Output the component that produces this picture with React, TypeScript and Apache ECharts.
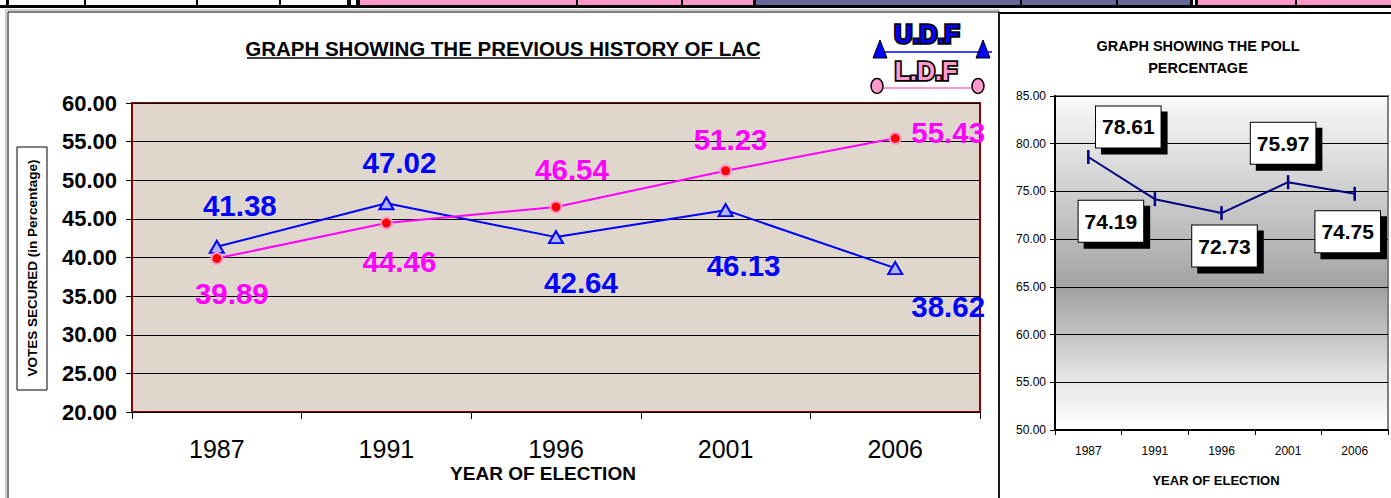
import React, { useEffect, useRef } from 'react';
import * as echarts from 'echarts';

const years = ['1987', '1991', '1996', '2001', '2006'];
const udfVotes = [41.38, 47.02, 42.64, 46.13, 38.62];
const ldfVotes = [39.89, 44.46, 46.54, 51.23, 55.43];
const pollPct = [78.61, 74.19, 72.73, 75.97, 74.75];

const FONT = '"Liberation Sans", Arial, sans-serif';

// label placement (layout only)
const udfLabelOffsets = [[23, -41], [13, -41], [25, 45], [18, 55], [53, 38]];
const ldfLabelOffsets = [[15, 35], [13, 38], [16, -37], [5, -31], [53, -6]];
const pollLabelOffsets = [[40, -30], [-44, 22], [3, 33], [-5, -39], [-7, 38]];

// top strip cells: [x0, x1, color]
const stripCells: [number, number, string][] = [
  [0, 6, '#ffffff'], [9, 84, '#ffffff'], [86, 196, '#ffffff'], [198, 279, '#ffffff'], [281, 347, '#ffffff'],
  [351, 356, '#ffffff'],
  [360, 576, '#ff99cc'], [578, 681, '#ff99cc'], [683, 753, '#ff99cc'],
  [756, 1020, '#666699'], [1022, 1116, '#666699'], [1118, 1190, '#666699'],
  [1193, 1195, '#ffffff'],
  [1198, 1295, '#ff99cc'], [1297, 1391, '#ff99cc'],
];

function txt(x: number, y: number, text: string, size: number, extra: any = {}) {
  return {
    type: 'text', x, y, silent: true,
    style: {
      text, fill: '#000', fontSize: size, fontWeight: 'bold', fontFamily: FONT,
      textAlign: 'center', textVerticalAlign: 'middle', align: 'center', verticalAlign: 'middle',
      ...extra,
    },
  };
}

export default function App() {
  const ref = useRef<HTMLDivElement>(null);
  useEffect(() => {
    if (!ref.current) return;
    const chart = echarts.init(ref.current, null, { renderer: 'svg' });

    const graphics: any[] = [];
    graphics.push({ type: 'rect', shape: { x: 0, y: 0, width: 1391, height: 8 }, style: { fill: '#000' }, silent: true });
    stripCells.forEach(([a, b, c]) => {
      graphics.push({ type: 'rect', shape: { x: a, y: 0, width: b - a, height: 5 }, style: { fill: c }, silent: true });
    });
    // boxes
    graphics.push({ type: 'rect', shape: { x: 6, y: 10, width: 993, height: 500 }, style: { fill: 'none', stroke: '#999', lineWidth: 1 }, silent: true });
    graphics.push({ type: 'rect', shape: { x: 8, y: 12, width: 991, height: 500 }, style: { fill: 'none', stroke: '#000', lineWidth: 1 }, silent: true });
    graphics.push({ type: 'line', shape: { x1: 999, y1: 13, x2: 1391, y2: 13 }, style: { stroke: '#000', lineWidth: 2 }, silent: true });
    graphics.push({ type: 'line', shape: { x1: 999, y1: 12, x2: 999, y2: 498 }, style: { stroke: '#000', lineWidth: 1.5 }, silent: true });

    // left title
    graphics.push(txt(503, 48, 'GRAPH SHOWING THE PREVIOUS HISTORY OF LAC', 20.5));
    graphics.push({ type: 'line', shape: { x1: 247, y1: 58, x2: 760, y2: 58 }, style: { stroke: '#000', lineWidth: 1.5 }, silent: true });
    // y name box
    graphics.push({ type: 'rect', shape: { x: 17, y: 147, width: 30, height: 243 }, style: { fill: '#fff', stroke: '#000', lineWidth: 1 }, silent: true });
    graphics.push({ ...txt(32, 268, 'VOTES SECURED (in Percentage)', 13.5), rotation: Math.PI / 2 });
    graphics.push(txt(543, 473, 'YEAR OF ELECTION', 19));

    // legend logo
    graphics.push({ type: 'line', shape: { x1: 880, y1: 52, x2: 992, y2: 52 }, style: { stroke: '#0000ff', lineWidth: 1.5 }, silent: true });
    graphics.push({ type: 'polygon', shape: { points: [[880, 40], [873, 58], [887, 58]] }, style: { fill: '#0000ff', stroke: '#000', lineWidth: 1 }, silent: true });
    graphics.push({ type: 'polygon', shape: { points: [[983, 40], [976, 58], [990, 58]] }, style: { fill: '#0000ff', stroke: '#000', lineWidth: 1 }, silent: true });
    graphics.push(txt(927, 34, 'U.D.F', 25, { fill: '#0000ff', stroke: '#000', lineWidth: 3.5 }));
    graphics.push({ type: 'line', shape: { x1: 877, y1: 88, x2: 978, y2: 88 }, style: { stroke: '#ff99cc', lineWidth: 2 }, silent: true });
    graphics.push({ type: 'ellipse', shape: { cx: 877, cy: 86, rx: 6, ry: 7.5 }, style: { fill: '#ff99cc', stroke: '#000', lineWidth: 1.5 }, silent: true });
    graphics.push({ type: 'ellipse', shape: { cx: 978, cy: 86, rx: 6, ry: 7.5 }, style: { fill: '#ff99cc', stroke: '#000', lineWidth: 1.5 }, silent: true });
    graphics.push(txt(926, 71, 'L.D.F', 25, { fill: '#ff99cc', stroke: '#000', lineWidth: 3.5 }));

    // right titles
    graphics.push(txt(1198, 46, 'GRAPH SHOWING THE POLL', 14.5));
    graphics.push(txt(1198, 68, 'PERCENTAGE', 14.5));
    graphics.push(txt(1216, 480, 'YEAR OF ELECTION', 13));

    const fmt = (p: any) => Number(p.value).toFixed(2);

    chart.setOption({
      animation: false,
      backgroundColor: '#fff',
      grid: [
        { left: 132, top: 103, width: 848, height: 309, show: true, backgroundColor: '#dfd7cb', borderColor: '#8b0000', borderWidth: 2, z: 0 },
        {
          left: 1055, top: 96, width: 333, height: 334, show: true, borderColor: '#808080', borderWidth: 2,
          backgroundColor: new echarts.graphic.LinearGradient(0, 0, 0, 1, [
            { offset: 0, color: '#fafafa' },
            { offset: 0.58, color: '#a2a2a2' },
            { offset: 0.86, color: '#e8e8e8' },
            { offset: 1, color: '#ffffff' },
          ]),
        },
      ],
      xAxis: [
        {
          type: 'category', gridIndex: 0, data: years, boundaryGap: true,
          axisLine: { show: true, lineStyle: { color: '#000', width: 1 } },
          axisTick: { show: true, length: 7, lineStyle: { color: '#000' } },
          axisLabel: { fontSize: 25, color: '#000', margin: 24, fontFamily: FONT },
        },
        {
          type: 'category', gridIndex: 1, data: years, boundaryGap: true,
          axisLine: { show: true, lineStyle: { color: '#000', width: 2 } },
          axisTick: { show: true, length: 5, lineStyle: { color: '#000' } },
          axisLabel: { fontSize: 12, color: '#000', margin: 15, fontFamily: FONT },
        },
      ],
      yAxis: [
        {
          type: 'value', gridIndex: 0, min: 20, max: 60, interval: 5,
          axisLine: { show: true, lineStyle: { color: '#8b0000', width: 2 } },
          axisTick: { show: true, length: 6, lineStyle: { color: '#000' } },
          axisLabel: { fontSize: 22, fontWeight: 'bold', color: '#000', margin: 15, fontFamily: FONT, formatter: (v: number) => v.toFixed(2) },
          splitLine: { show: true, lineStyle: { color: '#000', width: 1 } },
        },
        {
          type: 'value', gridIndex: 1, min: 50, max: 85, interval: 5,
          axisLine: { show: true, lineStyle: { color: '#000', width: 2 } },
          axisTick: { show: true, length: 5, lineStyle: { color: '#000' } },
          axisLabel: { fontSize: 12, color: '#000', margin: 9, fontFamily: FONT, formatter: (v: number) => v.toFixed(2) },
          splitLine: { show: true, lineStyle: { color: '#000', width: 1 } },
        },
      ],
      series: [
        {
          type: 'line', name: 'U.D.F', xAxisIndex: 0, yAxisIndex: 0,
          data: udfVotes.map((v, i) => ({ value: v, label: { offset: udfLabelOffsets[i] } })),
          symbol: 'triangle', symbolSize: [14, 12],
          lineStyle: { color: '#0000ff', width: 2 },
          itemStyle: { color: '#b0b4ff', borderColor: '#0000ff', borderWidth: 2 },
          label: { show: true, position: 'inside', color: '#0000ff', fontSize: 29.5, fontWeight: 'bold', fontFamily: FONT, formatter: fmt },
          z: 3,
        },
        {
          type: 'line', name: 'L.D.F', xAxisIndex: 0, yAxisIndex: 0,
          data: ldfVotes.map((v, i) => ({ value: v, label: { offset: ldfLabelOffsets[i] } })),
          symbol: 'circle', symbolSize: 11,
          lineStyle: { color: '#ff00ff', width: 2 },
          itemStyle: { color: '#ff0000', borderColor: '#ff99cc', borderWidth: 2 },
          label: { show: true, position: 'inside', color: '#ff00ff', fontSize: 29.5, fontWeight: 'bold', fontFamily: FONT, formatter: fmt },
          z: 3,
        },
        {
          type: 'line', name: 'Poll', xAxisIndex: 1, yAxisIndex: 1,
          data: pollPct.map((v, i) => ({ value: v, label: { offset: pollLabelOffsets[i] } })),
          symbol: 'rect', symbolSize: [2.5, 14],
          lineStyle: { color: '#000080', width: 2 },
          itemStyle: { color: '#000080' },
          label: {
            show: true, position: 'inside', color: '#000', fontSize: 21, fontWeight: 'bold', fontFamily: FONT, formatter: fmt,
            backgroundColor: '#fff', borderColor: '#000', borderWidth: 1, padding: [10, 6, 10, 6],
            shadowColor: '#000', shadowOffsetX: 6, shadowOffsetY: 6, shadowBlur: 0,
          },
          z: 3,
        },
      ],
      graphic: graphics,
    });
    return () => chart.dispose();
  }, []);
  return <div ref={ref} style={{ position: 'absolute', left: 0, top: 0, width: 1391, height: 498 }} />;
}
